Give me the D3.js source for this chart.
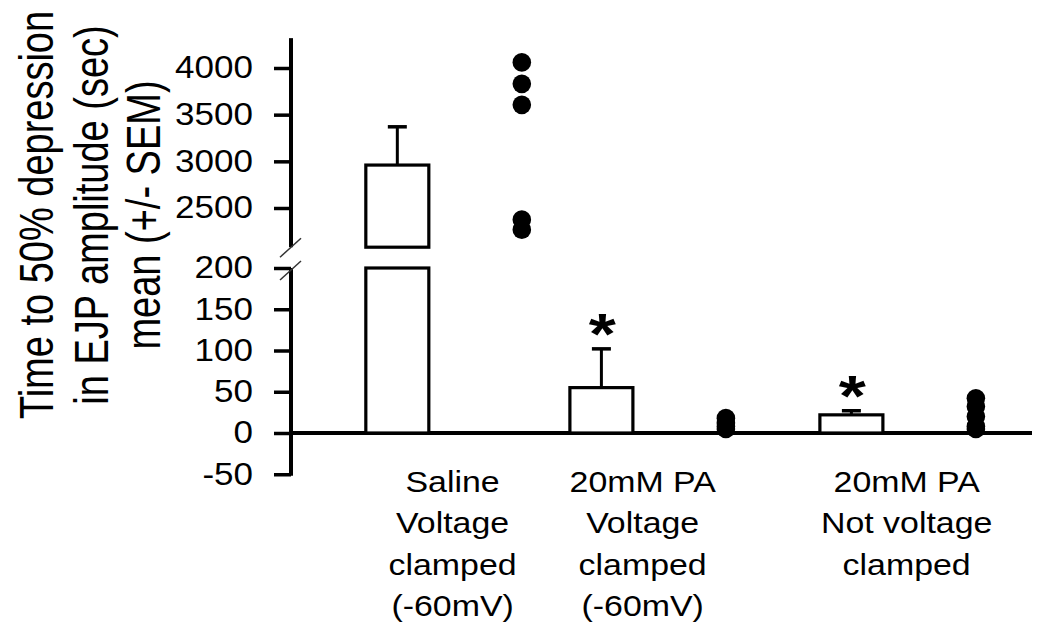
<!DOCTYPE html>
<html>
<head>
<meta charset="utf-8">
<script src="https://cdn.jsdelivr.net/npm/d3@7"></script>
<style>
    body { margin: 0; background: #fff; }
    svg { display: block; font-family: Arial, "Liberation Sans", sans-serif; }
</style>
</head>
<body>
<div id="chart"></div>
<script>
// groups along the x axis (labels are multi-line)
const categories = [
    ["Saline", "Voltage", "clamped", "(-60mV)"],
    ["20mM PA", "Voltage", "clamped", "(-60mV)"],
    ["20mM PA", "Not voltage", "clamped"]
];
const catPos = [1, 2, 3.225];
const means = [2960, 55, 22];
const sems = [410, 47, 5];
const significant = [false, true, true];
// individual preparations
const points = [
    [4060, 3830, 3605, 2375, 2268],
    [18, 12, 8, 5],
    [42, 32, 20, 8, 5]
];
const upperTicks = [2500, 3000, 3500, 4000];
const lowerTicks = [-50, 0, 50, 100, 150, 200];
const titleLines = ["Time to 50% depression", "in EJP amplitude (sec)", "mean (+/- SEM)"];

const width = 1037, height = 628;
const stretch = 1.13; // text in the figure is a bit wide

const svg = d3.select("#chart").append("svg")
    .attr("width", width)
    .attr("height", height);

const x = d3.scaleLinear().domain([0.169, 3.8]).range([291, 1032]);
const yLow = d3.scaleLinear().domain([0, 200]).range([433, 268]);
const yHigh = d3.scaleLinear().domain([2500, 4000]).range([208, 68]);
const lowTop = 200, highBottom = 2080, highTop = 4320;
const barW = 63, barOff = -0.31, dotOff = 0.3;
const labelShift = [-8, -22, -8]; // labels don't sit exactly under the groups

// y axes (two segments)
function styleAxis(g) {
    g.select(".domain").remove();
    g.selectAll(".tick line").attr("stroke", "#000").attr("stroke-width", 3.5);
    g.selectAll(".tick text")
        .attr("fill", "#000")
        .style("font-size", "31px")
        .attr("x", -38 / stretch)
        .attr("transform", `scale(${stretch},1)`);
}

svg.append("g")
    .attr("transform", "translate(291,0)")
    .call(d3.axisLeft(yHigh).tickValues(upperTicks).tickSize(17).tickPadding(21).tickFormat(d => String(d)))
    .call(styleAxis);

svg.append("g")
    .attr("transform", "translate(291,0)")
    .call(d3.axisLeft(yLow).tickValues(lowerTicks).tickSize(17).tickPadding(21).tickFormat(d => String(d)))
    .call(styleAxis);

svg.append("line")
    .attr("x1", 291).attr("x2", 291)
    .attr("y1", yHigh(highTop)).attr("y2", yHigh(highBottom))
    .attr("stroke", "#000").attr("stroke-width", 4);

svg.append("line")
    .attr("x1", 291).attr("x2", 291)
    .attr("y1", yLow(lowTop)).attr("y2", yLow(-50) + 1.5)
    .attr("stroke", "#000").attr("stroke-width", 4);

// break marks
[yHigh(highBottom), yLow(lowTop) + 2].forEach(yy => {
    svg.append("line")
        .attr("x1", 280).attr("y1", yy + 10)
        .attr("x2", 301).attr("y2", yy - 9)
        .attr("stroke", "#333").attr("stroke-width", 1.5);
});

// x axis
svg.append("line")
    .attr("x1", 291).attr("x2", 1032)
    .attr("y1", yLow(0)).attr("y2", yLow(0))
    .attr("stroke", "#000").attr("stroke-width", 4);

const bars = svg.append("g");
means.forEach((m, i) => {
    const cx = x(catPos[i] + barOff);
    if (m > lowTop) {
        // broken bar: upper part + lower part
        bars.append("rect")
            .attr("x", cx - barW / 2).attr("width", barW)
            .attr("y", yHigh(m)).attr("height", yHigh(highBottom) - yHigh(m))
            .attr("fill", "#fff").attr("stroke", "#000").attr("stroke-width", 3.2);
        bars.append("rect")
            .attr("x", cx - barW / 2).attr("width", barW)
            .attr("y", yLow(lowTop)).attr("height", yLow(0) - yLow(lowTop))
            .attr("fill", "#fff").attr("stroke", "#000").attr("stroke-width", 3.2);
    } else {
        bars.append("rect")
            .attr("x", cx - barW / 2).attr("width", barW)
            .attr("y", yLow(m)).attr("height", yLow(0) - yLow(m))
            .attr("fill", "#fff").attr("stroke", "#000").attr("stroke-width", 3.2);
    }
    const y = m > lowTop ? yHigh : yLow;
    const top = m + sems[i];
    bars.append("line")
        .attr("x1", cx).attr("x2", cx)
        .attr("y1", y(m)).attr("y2", y(top))
        .attr("stroke", "#000").attr("stroke-width", 3);
    bars.append("line")
        .attr("x1", cx - 9.5).attr("x2", cx + 9.5)
        .attr("y1", y(top)).attr("y2", y(top))
        .attr("stroke", "#000").attr("stroke-width", 3.5);
    if (significant[i]) {
        bars.append("text")
            .attr("transform", `translate(${cx + 1},${y(top) + 5}) scale(1.2,1)`)
            .attr("text-anchor", "middle")
            .style("font-size", "58px")
            .style("font-weight", "bold")
            .text("*");
    }
});

// dots
points.forEach((vals, i) => {
    svg.append("g").selectAll("circle")
        .data(vals)
        .enter().append("circle")
        .attr("cx", x(catPos[i] + dotOff))
        .attr("cy", d => d > lowTop ? yHigh(d) : yLow(d))
        .attr("r", 9.3)
        .attr("fill", "#000");
});

// category labels
categories.forEach((lines, i) => {
    const t = svg.append("text")
        .attr("transform", `translate(${x(catPos[i]) + labelShift[i]},492) scale(${stretch},1)`)
        .attr("text-anchor", "middle")
        .style("font-size", "30px");
    lines.forEach((s, j) => {
        t.append("tspan").attr("x", 0).attr("y", j * 41.5).text(s);
    });
});

// y title
const titleX = [36, 91, 143];
titleLines.forEach((s, j) => {
    svg.append("text")
        .attr("transform", `translate(${titleX[j]},215) scale(1.25,1) rotate(-90)`)
        .attr("text-anchor", "middle")
        .attr("dy", "0.35em")
        .style("font-size", "38px")
        .text(s);
});
</script>
</body>
</html>
